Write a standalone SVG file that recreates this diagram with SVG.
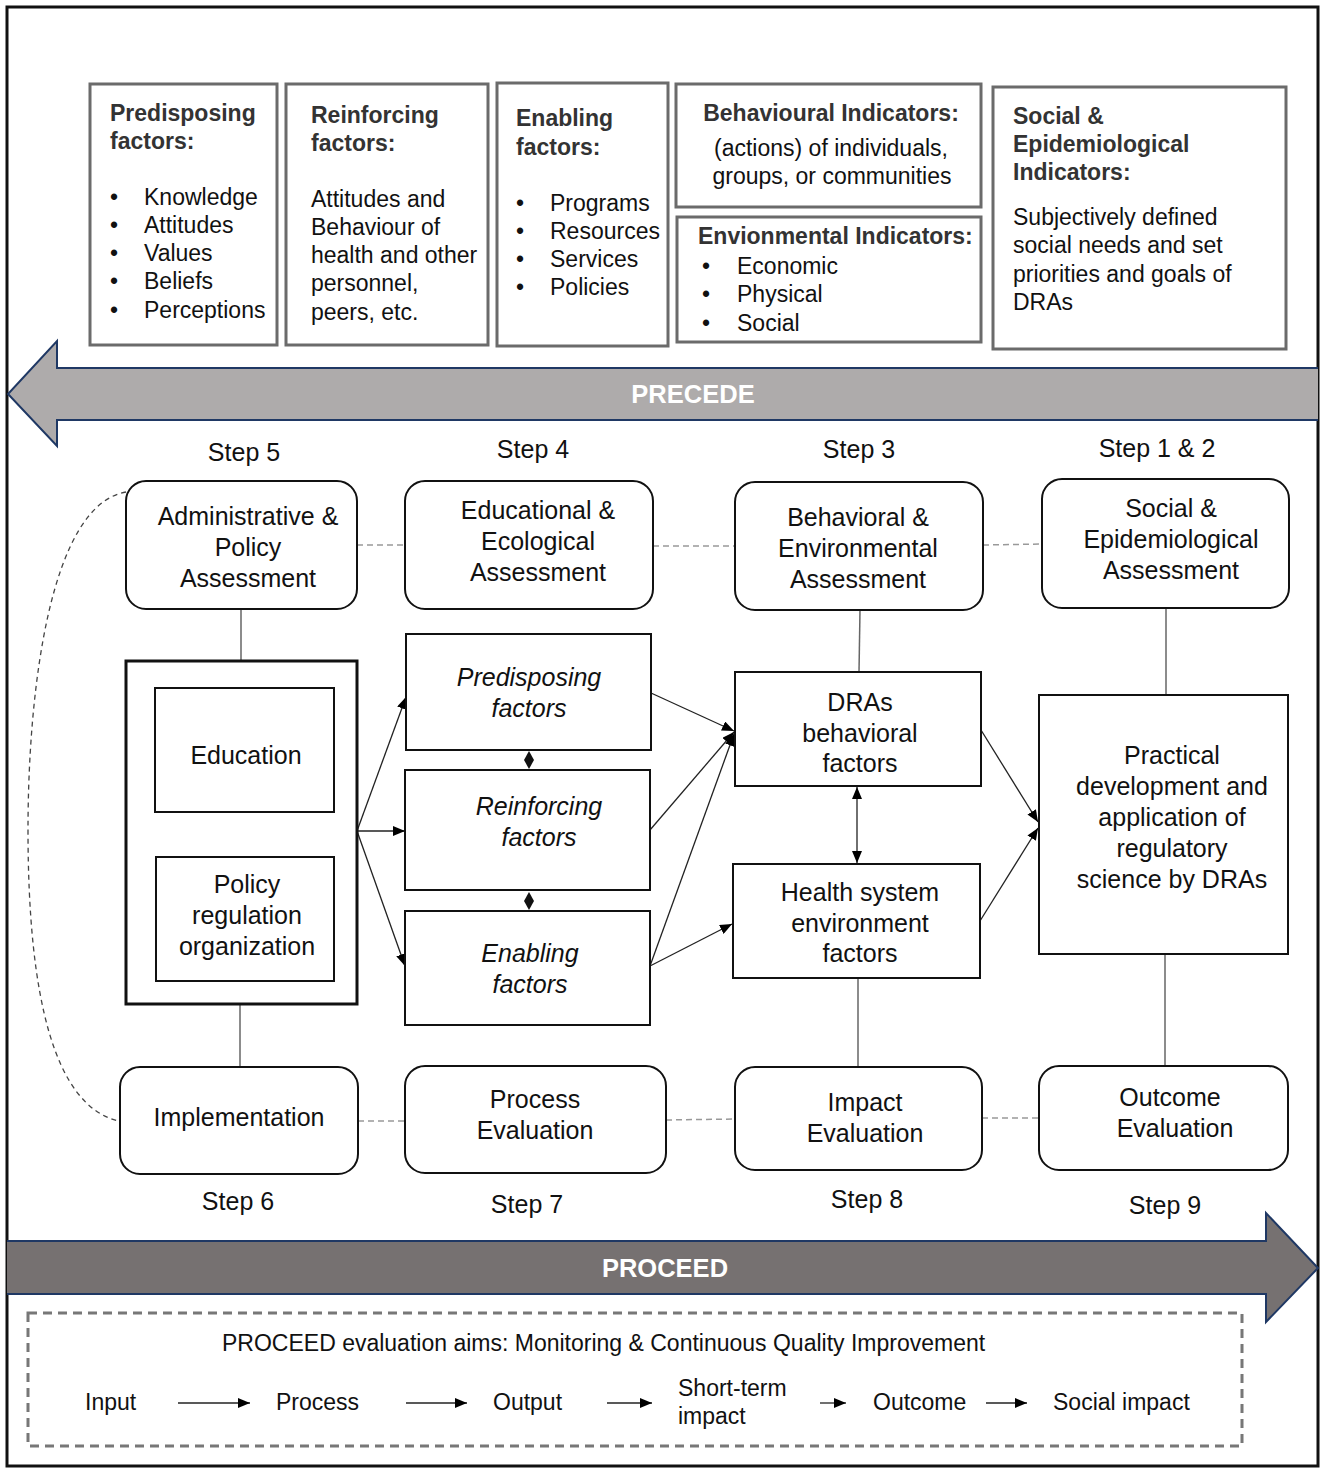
<svg xmlns="http://www.w3.org/2000/svg" width="1325" height="1472" viewBox="0 0 1325 1472">
<defs>
<marker id="ah" viewBox="0 0 12 10" refX="12" refY="5" markerWidth="12" markerHeight="10" markerUnits="userSpaceOnUse" orient="auto-start-reverse">
<path d="M0,0 L12,5 L0,10 z" fill="#000"/>
</marker>
<style>
text{font-family:"Liberation Sans",Arial,Helvetica,sans-serif;fill:#111}
.tb{font-size:23px}
.tbb{font-size:23px;font-weight:bold;fill:#333}
.topbox{fill:#fff;stroke:#6b6b6b;stroke-width:3}
.rbox{fill:#fff;stroke:#111;stroke-width:2}
.box{fill:#fff;stroke:#111;stroke-width:2}
.m{font-size:25px;text-anchor:middle}
.mi{font-size:25px;text-anchor:middle;font-style:italic}
.step{font-size:25px;text-anchor:middle}
.dash{stroke:#999;stroke-width:1.5;stroke-dasharray:6,4;fill:none}
.curve{stroke:#444;stroke-width:1.3;stroke-dasharray:5,4;fill:none}
.vline{stroke:#666;stroke-width:1.5;fill:none}
.arr{stroke:#222;stroke-width:1.3;fill:none;marker-end:url(#ah)}
.darr{stroke:#222;stroke-width:1.3;fill:none;marker-end:url(#ah);marker-start:url(#ah)}
.bt{font-size:23px}
.band{font-size:25.5px;font-weight:bold;fill:#fff;text-anchor:middle}
</style>
</defs>
<rect x="0" y="0" width="1325" height="1472" fill="#fff"/>
<rect x="7" y="7" width="1311" height="1459" fill="none" stroke="#111" stroke-width="3"/>

<g id="top-predisposing">
<rect class="topbox" x="90" y="84" width="187" height="261"/>
<text class="tbb" x="110" y="121">Predisposing</text>
<text class="tbb" x="110" y="149">factors:</text>
<text class="tb" x="110" y="205">•</text><text class="tb" x="144" y="205">Knowledge</text>
<text class="tb" x="110" y="233">•</text><text class="tb" x="144" y="233">Attitudes</text>
<text class="tb" x="110" y="261">•</text><text class="tb" x="144" y="261">Values</text>
<text class="tb" x="110" y="289">•</text><text class="tb" x="144" y="289">Beliefs</text>
<text class="tb" x="110" y="318">•</text><text class="tb" x="144" y="318">Perceptions</text>
</g>
<g id="top-reinforcing">
<rect class="topbox" x="286" y="84" width="202" height="261"/>
<text class="tbb" x="311" y="123">Reinforcing</text>
<text class="tbb" x="311" y="151">factors:</text>
<text class="tb" x="311" y="207">Attitudes and</text>
<text class="tb" x="311" y="235">Behaviour of</text>
<text class="tb" x="311" y="263">health and other</text>
<text class="tb" x="311" y="291">personnel,</text>
<text class="tb" x="311" y="320">peers, etc.</text>
</g>
<g id="top-enabling">
<rect class="topbox" x="497" y="83" width="171" height="263"/>
<text class="tbb" x="516" y="126">Enabling</text>
<text class="tbb" x="516" y="155">factors:</text>
<text class="tb" x="516" y="211">•</text><text class="tb" x="550" y="211">Programs</text>
<text class="tb" x="516" y="239">•</text><text class="tb" x="550" y="239">Resources</text>
<text class="tb" x="516" y="267">•</text><text class="tb" x="550" y="267">Services</text>
<text class="tb" x="516" y="295">•</text><text class="tb" x="550" y="295">Policies</text>
</g>
<g id="top-behavioural">
<rect class="topbox" x="676" y="84" width="305" height="123"/>
<text class="tbb" x="831" y="121" text-anchor="middle">Behavioural Indicators:</text>
<text class="tb" x="831" y="156" text-anchor="middle">(actions) of individuals,</text>
<text class="tb" x="832" y="184" text-anchor="middle">groups, or communities</text>
</g>
<g id="top-environmental">
<rect class="topbox" x="677" y="217" width="304" height="125"/>
<text class="tbb" x="698" y="244">Envionmental Indicators:</text>
<text class="tb" x="702" y="274">•</text><text class="tb" x="737" y="274">Economic</text>
<text class="tb" x="702" y="302">•</text><text class="tb" x="737" y="302">Physical</text>
<text class="tb" x="702" y="331">•</text><text class="tb" x="737" y="331">Social</text>
</g>
<g id="top-social">
<rect class="topbox" x="993" y="87" width="293" height="262"/>
<text class="tbb" x="1013" y="124">Social &amp;</text>
<text class="tbb" x="1013" y="152">Epidemiological</text>
<text class="tbb" x="1013" y="180">Indicators:</text>
<text class="tb" x="1013" y="225">Subjectively defined</text>
<text class="tb" x="1013" y="253">social needs and set</text>
<text class="tb" x="1013" y="282">priorities and goals of</text>
<text class="tb" x="1013" y="310">DRAs</text>
</g>

<g id="precede">
<path d="M1318,368 L57,368 L57,341 L8,394 L57,446 L57,420 L1318,420" fill="#aeabab" stroke="#1f3864" stroke-width="2"/>
<text class="band" x="693" y="403">PRECEDE</text>
</g>

<g id="steps">
<text class="step" x="244" y="461">Step 5</text>
<text class="step" x="533" y="458">Step 4</text>
<text class="step" x="859" y="458">Step 3</text>
<text class="step" x="1157" y="457">Step 1 &amp; 2</text>
<text class="step" x="238" y="1210">Step 6</text>
<text class="step" x="527" y="1213">Step 7</text>
<text class="step" x="867" y="1208">Step 8</text>
<text class="step" x="1165" y="1214">Step 9</text>
</g>

<g id="connectors">
<path class="curve" d="M126,492 C50,505 28,690 28,830 C28,1000 55,1105 118,1121"/>
<line class="dash" x1="357" y1="545" x2="405" y2="545"/>
<line class="dash" x1="653" y1="546" x2="735" y2="546"/>
<line class="dash" x1="983" y1="545" x2="1042" y2="544"/>
<line class="dash" x1="358" y1="1121" x2="405" y2="1121"/>
<line class="dash" x1="666" y1="1120" x2="735" y2="1119"/>
<line class="dash" x1="982" y1="1118" x2="1039" y2="1118"/>
<line class="vline" x1="241" y1="609" x2="241" y2="661"/>
<line class="vline" x1="240" y1="1004" x2="240" y2="1067"/>
<line class="vline" x1="860" y1="610" x2="859" y2="672"/>
<line class="vline" x1="858" y1="978" x2="858" y2="1067"/>
<line class="vline" x1="1166" y1="608" x2="1166" y2="695"/>
<line class="vline" x1="1165" y1="954" x2="1165" y2="1066"/>
<line class="darr" x1="245" y1="813" x2="245" y2="856"/>
<line class="darr" x1="857" y1="787" x2="857" y2="863"/>
<line class="arr" x1="357" y1="831" x2="406" y2="697"/>
<line class="arr" x1="357" y1="831" x2="405" y2="831"/>
<line class="arr" x1="357" y1="831" x2="405" y2="966"/>
<line class="arr" x1="651" y1="693" x2="734" y2="731"/>
<line class="arr" x1="650" y1="830" x2="734" y2="732"/>
<line class="arr" x1="650" y1="966" x2="734" y2="734"/>
<line class="arr" x1="650" y1="966" x2="732" y2="924"/>
<line class="arr" x1="981" y1="730" x2="1038" y2="822"/>
<line class="arr" x1="980" y1="921" x2="1038" y2="828"/>
<polygon points="529,751 534,760 529,769 524,760" fill="#111"/>
<polygon points="529,892 534,901 529,910 524,901" fill="#111"/>
</g>

<g id="admin">
<rect class="rbox" x="126" y="481" width="231" height="128" rx="20"/>
<text class="m" x="248" y="525">Administrative &amp;</text>
<text class="m" x="248" y="556">Policy</text>
<text class="m" x="248" y="587">Assessment</text>
</g>
<g id="educational">
<rect class="rbox" x="405" y="481" width="248" height="128" rx="20"/>
<text class="m" x="538" y="519">Educational &amp;</text>
<text class="m" x="538" y="550">Ecological</text>
<text class="m" x="538" y="581">Assessment</text>
</g>
<g id="behavioral">
<rect class="rbox" x="735" y="482" width="248" height="128" rx="20"/>
<text class="m" x="858" y="526">Behavioral &amp;</text>
<text class="m" x="858" y="557">Environmental</text>
<text class="m" x="858" y="588">Assessment</text>
</g>
<g id="social">
<rect class="rbox" x="1042" y="479" width="247" height="129" rx="20"/>
<text class="m" x="1171" y="517">Social &amp;</text>
<text class="m" x="1171" y="548">Epidemiological</text>
<text class="m" x="1171" y="579">Assessment</text>
</g>

<g id="intervention">
<rect x="126" y="661" width="231" height="343" fill="#fff" stroke="#111" stroke-width="3"/>
</g>
<g id="education">
<rect class="box" x="155" y="688" width="179" height="124"/>
<text class="m" x="246" y="764">Education</text>
</g>
<g id="policy">
<rect class="box" x="156" y="857" width="178" height="124"/>
<text class="m" x="247" y="893">Policy</text>
<text class="m" x="247" y="924">regulation</text>
<text class="m" x="247" y="955">organization</text>
</g>

<g id="predisposing">
<rect class="box" x="406" y="634" width="245" height="116"/>
<text class="mi" x="529" y="686">Predisposing</text>
<text class="mi" x="529" y="717">factors</text>
</g>
<g id="reinforcing">
<rect class="box" x="405" y="770" width="245" height="120"/>
<text class="mi" x="539" y="815">Reinforcing</text>
<text class="mi" x="539" y="846">factors</text>
</g>
<g id="enabling">
<rect class="box" x="405" y="911" width="245" height="114"/>
<text class="mi" x="530" y="962">Enabling</text>
<text class="mi" x="530" y="993">factors</text>
</g>

<g id="dras">
<rect class="box" x="735" y="672" width="246" height="114"/>
<text class="m" x="860" y="711">DRAs</text>
<text class="m" x="860" y="742">behavioral</text>
<text class="m" x="860" y="772">factors</text>
</g>
<g id="health">
<rect class="box" x="733" y="864" width="247" height="114"/>
<text class="m" x="860" y="901">Health system</text>
<text class="m" x="860" y="932">environment</text>
<text class="m" x="860" y="962">factors</text>
</g>
<g id="practical">
<rect class="box" x="1039" y="695" width="249" height="259"/>
<text class="m" x="1172" y="764">Practical</text>
<text class="m" x="1172" y="795">development and</text>
<text class="m" x="1172" y="826">application of</text>
<text class="m" x="1172" y="857">regulatory</text>
<text class="m" x="1172" y="888">science by DRAs</text>
</g>

<g id="implementation">
<rect class="rbox" x="120" y="1067" width="238" height="107" rx="20"/>
<text class="m" x="239" y="1126">Implementation</text>
</g>
<g id="process">
<rect class="rbox" x="405" y="1066" width="261" height="107" rx="20"/>
<text class="m" x="535" y="1108">Process</text>
<text class="m" x="535" y="1139">Evaluation</text>
</g>
<g id="impact">
<rect class="rbox" x="735" y="1067" width="247" height="103" rx="20"/>
<text class="m" x="865" y="1111">Impact</text>
<text class="m" x="865" y="1142">Evaluation</text>
</g>
<g id="outcome">
<rect class="rbox" x="1039" y="1066" width="249" height="104" rx="20"/>
<text class="m" x="1170" y="1106">Outcome</text>
<text class="m" x="1175" y="1137">Evaluation</text>
</g>

<g id="proceed">
<path d="M7,1241 L1266,1241 L1266,1213 L1318,1268 L1266,1322 L1266,1294 L7,1294" fill="#767171" stroke="#1f3864" stroke-width="2"/>
<text class="band" x="665" y="1277">PROCEED</text>
</g>

<g id="aims">
<rect x="28" y="1313" width="1214" height="133" fill="none" stroke="#777" stroke-width="3" stroke-dasharray="9,6"/>
<text class="bt" x="222" y="1351">PROCEED evaluation aims: Monitoring &amp; Continuous Quality Improvement</text>
<text class="bt" x="85" y="1410">Input</text>
<text class="bt" x="276" y="1410">Process</text>
<text class="bt" x="493" y="1410">Output</text>
<text class="bt" x="678" y="1396">Short-term</text>
<text class="bt" x="678" y="1424">impact</text>
<text class="bt" x="873" y="1410">Outcome</text>
<text class="bt" x="1053" y="1410">Social impact</text>
<line class="arr" x1="178" y1="1403" x2="250" y2="1403"/>
<line class="arr" x1="406" y1="1403" x2="467" y2="1403"/>
<line class="arr" x1="607" y1="1403" x2="652" y2="1403"/>
<line class="arr" x1="820" y1="1403" x2="846" y2="1403"/>
<line class="arr" x1="986" y1="1403" x2="1027" y2="1403"/>
</g>
</svg>
